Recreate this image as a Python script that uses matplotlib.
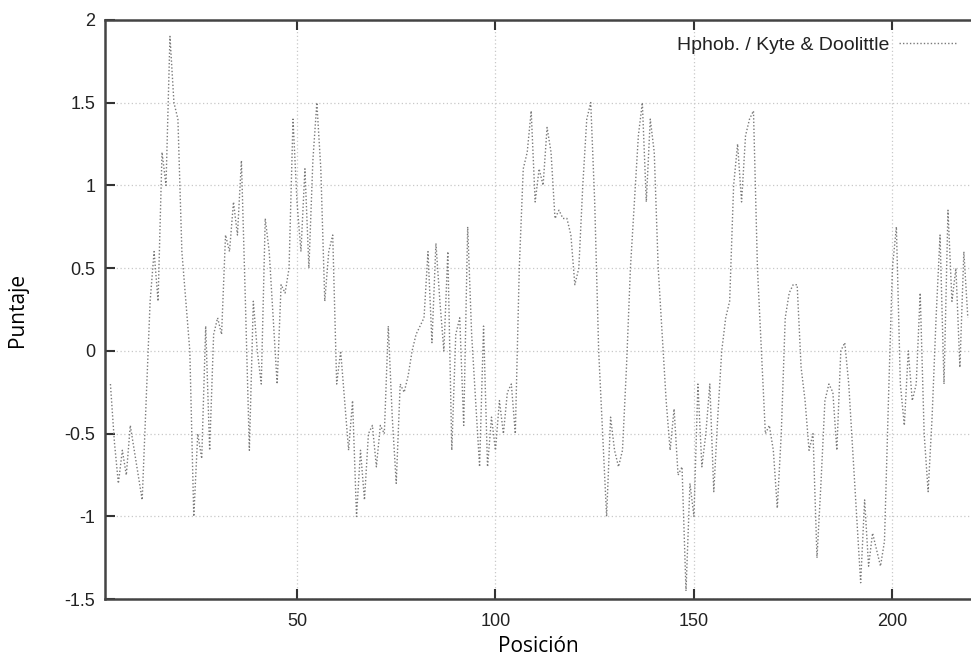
import matplotlib
matplotlib.use('Agg')
import matplotlib.pyplot as plt

# Kyte & Doolittle hydrophobicity profile
start = 3
scores = [
    -0.2, -0.55, -0.8, -0.6, -0.75, -0.45, -0.6, -0.75, -0.9, -0.3,
    0.3, 0.6, 0.3, 1.2, 1.0, 1.9, 1.5, 1.4, 0.6, 0.3,
    0.0, -1.0, -0.5, -0.65, 0.15, -0.6, 0.1, 0.2, 0.1, 0.7,
    0.6, 0.9, 0.7, 1.15, 0.3, -0.6, 0.3, 0.0, -0.2, 0.8,
    0.6, 0.2, -0.2, 0.4, 0.35, 0.5, 1.4, 0.9, 0.6, 1.1,
    0.5, 1.15, 1.5, 1.1, 0.3, 0.6, 0.7, -0.2, 0.0, -0.3,
    -0.6, -0.3, -1.0, -0.6, -0.9, -0.5, -0.45, -0.7, -0.45, -0.5,
    0.15, -0.4, -0.8, -0.2, -0.25, -0.15, 0.0, 0.1, 0.15, 0.2,
    0.6, 0.05, 0.65, 0.3, 0.0, 0.6, -0.6, 0.1, 0.2, -0.45,
    0.75, 0.1, -0.3, -0.7, 0.15, -0.7, -0.4, -0.6, -0.3, -0.5,
    -0.25, -0.2, -0.5, 0.5, 1.1, 1.2, 1.45, 0.9, 1.1, 1.0,
    1.35, 1.2, 0.8, 0.85, 0.8, 0.8, 0.7, 0.4, 0.5, 1.0,
    1.4, 1.5, 0.9, 0.0, -0.5, -1.0, -0.4, -0.6, -0.7, -0.6,
    -0.1, 0.5, 0.9, 1.3, 1.5, 0.9, 1.4, 1.2, 0.5, 0.1,
    -0.3, -0.6, -0.35, -0.75, -0.7, -1.45, -0.8, -1.0, -0.2, -0.7,
    -0.5, -0.2, -0.85, -0.4, 0.0, 0.2, 0.3, 1.0, 1.25, 0.9,
    1.3, 1.4, 1.45, 0.5, 0.0, -0.5, -0.45, -0.6, -0.95, -0.5,
    0.2, 0.35, 0.4, 0.4, -0.1, -0.3, -0.6, -0.5, -1.25, -0.8,
    -0.3, -0.2, -0.25, -0.6, 0.0, 0.05, -0.2, -0.6, -1.0, -1.4,
    -0.9, -1.3, -1.1, -1.2, -1.3, -1.15, -0.3, 0.5, 0.75, -0.2,
    -0.45, 0.0, -0.3, -0.2, 0.35, -0.5, -0.85, -0.4, 0.2, 0.7,
    -0.2, 0.85, 0.3, 0.5, -0.1, 0.6, 0.2,
]
positions = list(range(start, start + len(scores)))

xticks = [50, 100, 150, 200]
yticks = [-1.5, -1, -0.5, 0, 0.5, 1, 1.5, 2]
ytick_labels = ['-1.5', '-1', '-0.5', '0', '0.5', '1', '1.5', '2']

plt.rcParams['font.family'] = ['Liberation Sans', 'DejaVu Sans']

fig = plt.figure(figsize=(9.71, 6.6), dpi=100)
ax = fig.add_axes([0.108, 0.092, 0.892, 0.878])

ax.plot(positions, scores, color='#7a7a7a', lw=1.0, ls=(0, (1, 1.5)),
        label='Hphob. / Kyte & Doolittle')

ax.set_xlim(1.6, 219.8)
ax.set_ylim(-1.5, 2)
ax.set_xticks(xticks)
ax.set_yticks(yticks)
ax.set_yticklabels(ytick_labels)
ax.grid(True, color='#c8c8c8', ls=(0, (1, 2)), lw=0.9)

ax.tick_params(direction='in', length=7, width=1.5, color='#333333',
               labelsize=13, labelcolor='#222222', top=True, right=False)
ax.tick_params(axis='x', pad=10)
ax.tick_params(axis='y', pad=7)
for side in ('left', 'top', 'bottom'):
    ax.spines[side].set_linewidth(1.8)
    ax.spines[side].set_color('#444444')
ax.spines['right'].set_visible(False)

ax.set_xlabel('Posición', fontsize=15, family=['Open Sans', 'DejaVu Sans'], labelpad=4)
ax.set_ylabel('Puntaje', fontsize=15, family=['Open Sans', 'DejaVu Sans'], labelpad=26)

leg = ax.legend(loc='upper right', bbox_to_anchor=(1.0, 0.995), frameon=False,
                fontsize=14, handlelength=3.0, handletextpad=0.5,
                borderaxespad=0.3, markerfirst=False)
for t in leg.get_texts():
    t.set_color('#222222')

fig.savefig('out.png', dpi=100)
